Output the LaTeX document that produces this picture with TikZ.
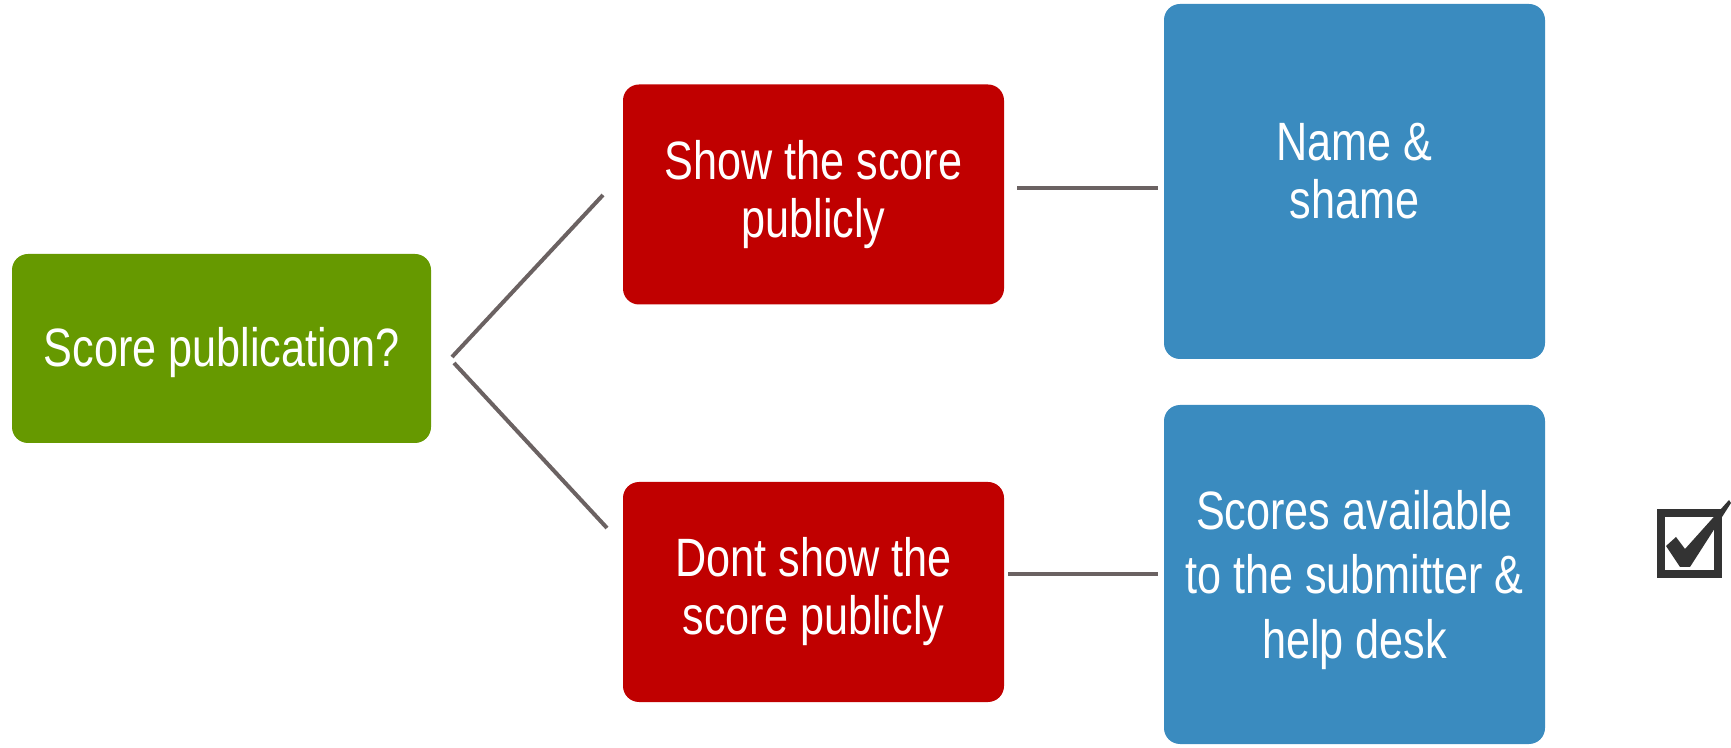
\documentclass[tikz,border=0pt]{standalone}
\usepackage{fontspec}
\setmainfont[FakeStretch=0.8]{Liberation Sans}
\usetikzlibrary{calc}
\definecolor{gbox}{HTML}{669900}
\definecolor{rbox}{HTML}{C00000}
\definecolor{bbox}{HTML}{3A8BBF}
\definecolor{lnk}{HTML}{6B6262}
\definecolor{chk}{HTML}{333333}
\tikzset{
  boxbase/.style={rounded corners=8pt, inner sep=0pt, align=center, text=white,
    font=\fontsize{27}{29}\selectfont},
  greenbox/.style={boxbase, fill=gbox, minimum width=209.5pt, minimum height=94.5pt},
  redbox/.style={boxbase, fill=rbox, minimum width=190.5pt, minimum height=110pt},
  bluebox/.style={boxbase, fill=bbox, minimum width=190.5pt},
  link/.style={draw=lnk, line width=2pt}
}
\begin{document}
\begin{tikzpicture}[x=0.5pt, y=-0.5pt]
\useasboundingbox (0,0) rectangle (1731,748);
\node[greenbox] (g) at (221.5,348.5) {\rule{0pt}{23.2pt}Score publication?};
\node[redbox] (r1) at (813.5,194.5) {Show the score\\publicly};
\node[redbox] (r2) at (813.5,592) {Dont show the\\score publicly};
\node[bluebox, minimum height=177.5pt] (b1) at (1354.5,181.5) {Name \&\\shame\rule[-11.1pt]{0pt}{0pt}};
\node[bluebox, minimum height=169.5pt, font=\fontsize{27}{32.25}\selectfont] (b2) at (1354.5,574.5) {\rule{0pt}{24.7pt}Scores available\\to the submitter \&\\help desk};
\coordinate (a1) at (452,357);
\coordinate (a2) at (603,195);
\coordinate (c1) at (454,363);
\coordinate (c2) at (607,528);
\coordinate (h1) at (1017,188);
\coordinate (h2) at (1158,188);
\coordinate (k1) at (1008,574);
\coordinate (k2) at (1158,574);
\draw[link] (a1) -- (a2);
\draw[link] (c1) -- (c2);
\draw[link] (h1) -- (h2);
\draw[link] (k1) -- (k2);
% checkbox
\draw[chk, line width=4pt] (1661,513) rectangle (1718,574);
\fill[chk] (1666,546) -- (1676,537) -- (1685,549) -- (1729,500) -- (1731,503)
  -- (1690,567) -- (1680,567) -- cycle;
\end{tikzpicture}
\end{document}
